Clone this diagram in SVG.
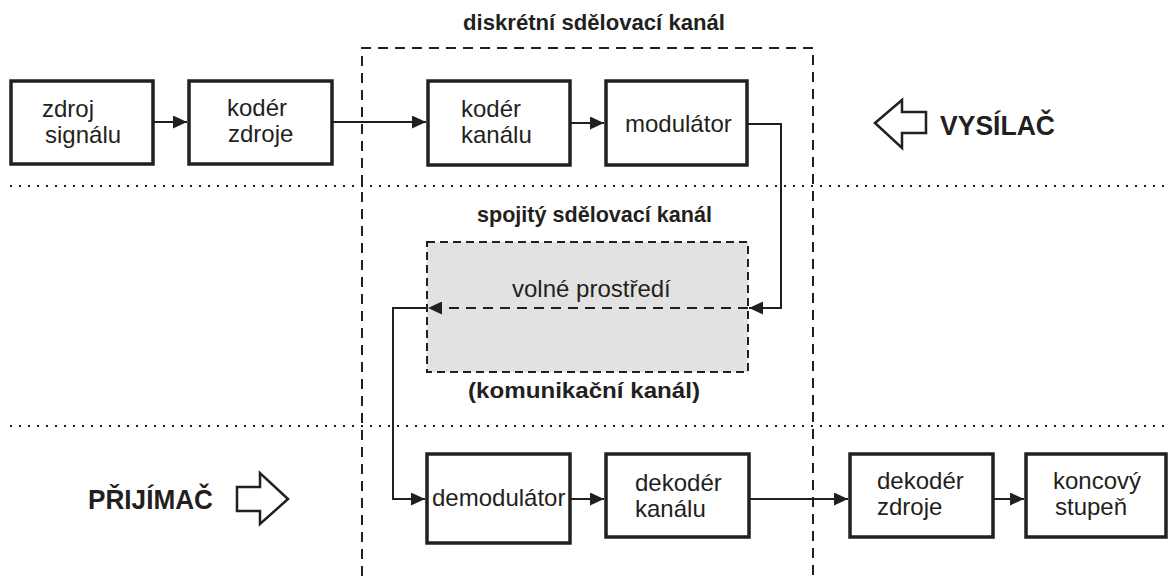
<svg xmlns="http://www.w3.org/2000/svg" width="1168" height="576" viewBox="0 0 1168 576">
<defs>
<style>
.box{fill:#fff;stroke:#231f20;stroke-width:3.5}
.t{font-family:"Liberation Sans",Arial,sans-serif;font-size:24px;fill:#231f20}
.b{font-family:"Liberation Sans",Arial,sans-serif;font-weight:bold;font-size:22px;fill:#231f20}
.big{font-family:"Liberation Sans",Arial,sans-serif;font-weight:bold;font-size:28px;fill:#231f20}
.c{fill:none;stroke:#231f20;stroke-width:2}
.dot{fill:none;stroke:#231f20;stroke-width:2;stroke-dasharray:2 7}
.dash{fill:none;stroke:#231f20;stroke-width:2;stroke-dasharray:10 7}
.hollow{fill:#fff;stroke:#231f20;stroke-width:2.5;stroke-linejoin:miter}
</style>
<marker id="ah" viewBox="0 0 14 13" refX="14" refY="6.5" markerWidth="14" markerHeight="13" markerUnits="userSpaceOnUse" orient="auto">
<path d="M0,0 L14,6.5 L0,13 z" fill="#231f20"/>
</marker>
</defs>
<rect width="1168" height="576" fill="#fff"/>

<g id="separators">
<line class="dot" x1="10" y1="186" x2="1168" y2="186"/>
<line class="dot" x1="10" y1="426" x2="1168" y2="426"/>
<path class="dash" d="M362,576 V48 H813 V576"/>
</g>

<text class="b" x="463" y="30" textLength="262" lengthAdjust="spacingAndGlyphs">diskrétní sdělovací kanál</text>
<text class="b" x="477" y="222" textLength="235" lengthAdjust="spacingAndGlyphs">spojitý sdělovací kanál</text>
<text class="b" x="468" y="398" textLength="232" lengthAdjust="spacingAndGlyphs">(komunikační kanál)</text>

<g id="vysilac">
<polygon class="hollow" points="875,123 902,100 902,112 926,112 926,133 902,133 902,148"/>
<text class="big" x="940" y="135" textLength="115" lengthAdjust="spacingAndGlyphs">VYSÍLAČ</text>
</g>
<g id="prijimac">
<text class="big" x="88" y="509" textLength="125" lengthAdjust="spacingAndGlyphs">PŘIJÍMAČ</text>
<polygon class="hollow" points="237,487 260,487 260,473 288,499 260,524 260,511 237,511"/>
</g>

<g id="zdroj-signalu">
<rect class="box" x="11" y="81" width="142" height="83"/>
<text class="t" x="42" y="117">zdroj</text>
<text class="t" x="45" y="143">signálu</text>
</g>
<g id="koder-zdroje">
<rect class="box" x="189" y="81" width="143" height="83"/>
<text class="t" x="227" y="116">kodér</text>
<text class="t" x="228" y="142">zdroje</text>
</g>
<g id="koder-kanalu">
<rect class="box" x="428" y="81" width="142" height="84"/>
<text class="t" x="461" y="117">kodér</text>
<text class="t" x="461" y="143">kanálu</text>
</g>
<g id="modulator">
<rect class="box" x="606" y="81" width="141" height="84"/>
<text class="t" x="625" y="132">modulátor</text>
</g>
<g id="volne-prostredi">
<rect x="427" y="242" width="321" height="130" fill="#e2e2e2" stroke="#231f20" stroke-width="2" stroke-dasharray="8 5"/>
<text class="t" x="512" y="297">volné prostředí</text>
</g>
<g id="demodulator">
<rect class="box" x="427" y="454" width="143" height="89"/>
<text class="t" x="432" y="506">demodulátor</text>
</g>
<g id="dekoder-kanalu">
<rect class="box" x="606" y="454" width="143" height="83"/>
<text class="t" x="635" y="491">dekodér</text>
<text class="t" x="635" y="517">kanálu</text>
</g>
<g id="dekoder-zdroje">
<rect class="box" x="850" y="454" width="143" height="83"/>
<text class="t" x="877" y="489">dekodér</text>
<text class="t" x="877" y="515">zdroje</text>
</g>
<g id="koncovy-stupen">
<rect class="box" x="1026" y="454" width="140" height="83"/>
<text class="t" x="1053" y="489">koncový</text>
<text class="t" x="1055" y="515">stupeň</text>
</g>

<g id="connectors">
<line class="c" x1="153" y1="122" x2="187" y2="122" marker-end="url(#ah)"/>
<line class="c" x1="332" y1="122" x2="426" y2="122" marker-end="url(#ah)"/>
<line class="c" x1="570" y1="123" x2="604" y2="123" marker-end="url(#ah)"/>
<path class="c" d="M747,124 H781 V308 H749" marker-end="url(#ah)"/>
<line class="dash" x1="748" y1="308" x2="428" y2="308" marker-end="url(#ah)"/>
<path class="c" d="M427,308 H393 V499 H425" marker-end="url(#ah)"/>
<line class="c" x1="570" y1="499" x2="604" y2="499" marker-end="url(#ah)"/>
<line class="c" x1="749" y1="499" x2="848" y2="499" marker-end="url(#ah)"/>
<line class="c" x1="993" y1="499" x2="1024" y2="499" marker-end="url(#ah)"/>
</g>
</svg>
